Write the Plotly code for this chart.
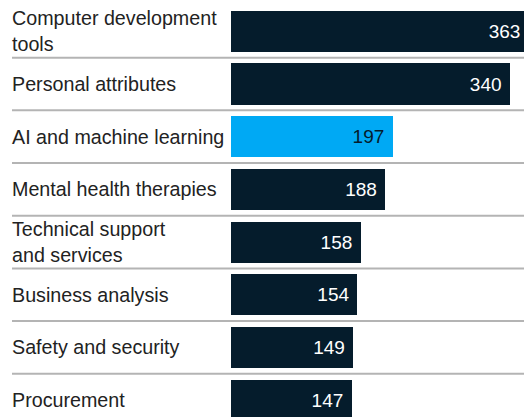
import plotly.graph_objects as go

# Skill categories and their counts
categories = [
    "Computer development<br>tools",
    "Personal attributes",
    "AI and machine learning",
    "Mental health therapies",
    "Technical support<br>and services",
    "Business analysis",
    "Safety and security",
    "Procurement",
]
values = [363, 340, 197, 188, 158, 154, 149, 147]
highlight = "AI and machine learning"

NAVY = "#051c2c"
CYAN = "#00a9f4"
W, H = 524, 417
LEFT = 231          # left edge of the bar area, px
TOP = 5

positions = list(range(len(categories)))
bar_colors = [CYAN if c == highlight else NAVY for c in categories]
text_colors = ["#051c2c" if c == highlight else "#ffffff" for c in categories]

fig = go.Figure(
    go.Bar(
        x=values,
        y=positions,
        orientation="h",
        width=0.78,
        marker=dict(color=bar_colors, line=dict(width=0)),
        text=[f"{v}\u00a0" for v in values],
        textposition="inside",
        insidetextanchor="end",
        textfont=dict(family="Liberation Sans", size=19, color=text_colors),
        hoverinfo="skip",
    )
)

plot_w = W - LEFT
label_x = -(LEFT - 10) / plot_w
line_x = -(LEFT - 12) / plot_w

# Category labels, left-aligned in the margin
for pos, cat in zip(positions, categories):
    fig.add_annotation(
        x=label_x, xref="paper", xanchor="left",
        y=pos, yref="y", yanchor="middle",
        text=cat, showarrow=False, align="left",
        font=dict(family="Liberation Sans", size=19.7, color="#222222"),
    )

# Row separators
for pos in positions[:-1]:
    fig.add_shape(
        type="line", xref="paper", x0=line_x, x1=1,
        yref="y", y0=pos + 0.5, y1=pos + 0.5,
        line=dict(color="#b4b4b4", width=2), layer="below",
    )

fig.update_layout(
    width=W, height=H,
    margin=dict(l=LEFT, r=0, t=TOP, b=0),
    paper_bgcolor="white", plot_bgcolor="white",
    showlegend=False,
    xaxis=dict(range=[0, 357.3], visible=False, fixedrange=True),
    yaxis=dict(range=[7.32, -0.5], visible=False, fixedrange=True),
    bargap=0,
)

fig.write_html("out.html", config={"displayModeBar": False, "staticPlot": True})
